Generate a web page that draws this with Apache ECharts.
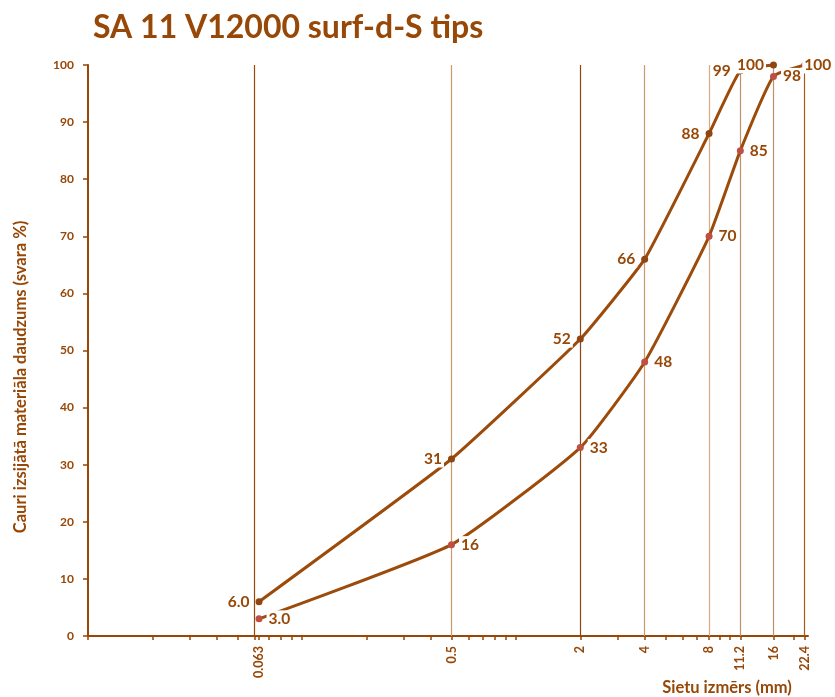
<!DOCTYPE html>
<html>
<head>
<meta charset="utf-8">
<script src="https://cdn.jsdelivr.net/npm/echarts@6/dist/echarts.min.js"></script>
<style>
  html, body { margin: 0; padding: 0; background: #fff; }
  #chart { width: 835px; height: 697px; }
</style>
</head>
<body>
<div id="chart"></div>
<script>
// Sieve sizes (mm) and percentage passing for the two grading envelope curves
const sieveSizes = [0.063, 0.5, 2, 4, 8, 11.2, 16, 22.4];
const upperPassing = [6.0, 31, 52, 66, 88, 99, 100, null];
const lowerPassing = [3.0, 16, 33, 48, 70, 85, 98, 100];
const yTickValues = [0, 10, 20, 30, 40, 50, 60, 70, 80, 90, 100];

// Colours of the vertical sieve lines
const sieveLineColors = ['#974706', '#c9996c', '#8a4712', '#c9996c', '#d5aa84', '#c29067', '#c29067', '#a85a1c'];

// Log-axis tick marks: every decade step between 0.01 and 20, plus the sieves
const logTicks = [];
[0.01, 0.1, 1, 10].forEach(function (d) {
  for (let k = 1; k <= 9; k++) {
    const v = +(d * k).toPrecision(3);
    if (v <= 22) logTicks.push(v);
  }
});
sieveSizes.forEach(function (s) { if (logTicks.indexOf(s) < 0) logTicks.push(s); });

const brown = '#974706';
const lineBrown = '#9c4b0b';
const fontFamily = 'Lato, "Open Sans", sans-serif';

function pairs(values, lastLabelShift) {
  const out = [];
  values.forEach(function (v, i) {
    if (v === null) return;
    const item = { value: [sieveSizes[i], v] };
    // the outermost label sits over its own marker so it stays inside the canvas
    if (lastLabelShift && i === values.length - 1) {
      item.label = { offset: [-10, 0] };
    }
    out.push(item);
  });
  return out;
}

function fmt(p) {
  const v = p.value[1];
  return v < 10 ? v.toFixed(1) : String(v);
}

const labelStyle = {
  show: true,
  color: brown,
  fontFamily: fontFamily,
  fontWeight: 'bold',
  fontSize: 15.5,
  backgroundColor: '#ffffff',
  padding: [1, 2, 0, 2],
  formatter: fmt
};

const chart = echarts.init(document.getElementById('chart'), null, { renderer: 'canvas' });

chart.setOption({
  backgroundColor: '#ffffff',
  animation: false,
  title: {
    text: 'SA 11 V12000 surf-d-S tips',
    left: 88,
    top: 7,
    textStyle: { color: brown, fontFamily: fontFamily, fontWeight: 'bold', fontSize: 32 }
  },
  grid: { left: 88, right: 27, top: 65, bottom: 61, outerBoundsMode: 'none' },
  xAxis: {
    type: 'log',
    logBase: 10,
    min: 0.01,
    max: 23.2,
    axisLine: { show: true, lineStyle: { color: brown, width: 2 } },
    axisTick: { show: true, customValues: logTicks, length: 4, lineStyle: { color: brown, width: 1.5 } },
    axisLabel: {
      customValues: sieveSizes,
      rotate: 90,
      margin: 10,
      color: brown,
      fontFamily: fontFamily,
      fontWeight: 'bold',
      fontSize: 12.5,
      formatter: function (v) { return String(v); }
    },
    splitLine: { show: false },
    minorTick: { show: false },
    minorSplitLine: { show: false }
  },
  yAxis: {
    type: 'value',
    min: 0,
    max: 100,
    interval: 10,
    axisLine: { show: true, lineStyle: { color: brown, width: 2 } },
    axisTick: { show: true, customValues: yTickValues, length: 5, lineStyle: { color: brown, width: 1.5 } },
    axisLabel: {
      customValues: yTickValues,
      margin: 14,
      color: brown,
      fontFamily: fontFamily,
      fontWeight: 'bold',
      fontSize: 12
    },
    splitLine: { show: false }
  },
  graphic: [
    {
      type: 'text',
      x: 21,
      y: 377,
      rotation: Math.PI / 2,
      style: {
        text: 'Cauri izsijātā materiāla daudzums (svara %)',
        fill: brown,
        font: 'bold 16.5px ' + fontFamily,
        textAlign: 'center',
        textVerticalAlign: 'middle'
      }
    },
    {
      type: 'text',
      x: 727,
      y: 688,
      style: {
        text: 'Sietu izmērs (mm)',
        fill: brown,
        font: 'bold 16.5px ' + fontFamily,
        textAlign: 'center',
        textVerticalAlign: 'middle'
      }
    }
  ],
  series: [
    {
      name: 'upper',
      type: 'line',
      data: pairs(upperPassing, false),
      smooth: 0.12,
      symbol: 'circle',
      symbolSize: 7,
      lineStyle: { color: lineBrown, width: 3 },
      itemStyle: { color: '#8f4610' },
      label: Object.assign({}, labelStyle, { position: 'left', distance: 4 }),
      z: 3,
      markLine: {
        silent: true,
        symbol: ['none', 'none'],
        label: { show: false },
        z: 1,
        data: sieveSizes.map(function (s, i) {
          return { xAxis: s, lineStyle: { color: sieveLineColors[i], width: 1.2, type: 'solid' } };
        })
      }
    },
    {
      name: 'lower',
      type: 'line',
      data: pairs(lowerPassing, true),
      smooth: 0.15,
      symbol: 'circle',
      symbolSize: 7,
      lineStyle: { color: lineBrown, width: 3 },
      itemStyle: { color: '#bd4f43' },
      label: Object.assign({}, labelStyle, { position: 'right', distance: 4 }),
      z: 3
    }
  ]
});
</script>
</body>
</html>
